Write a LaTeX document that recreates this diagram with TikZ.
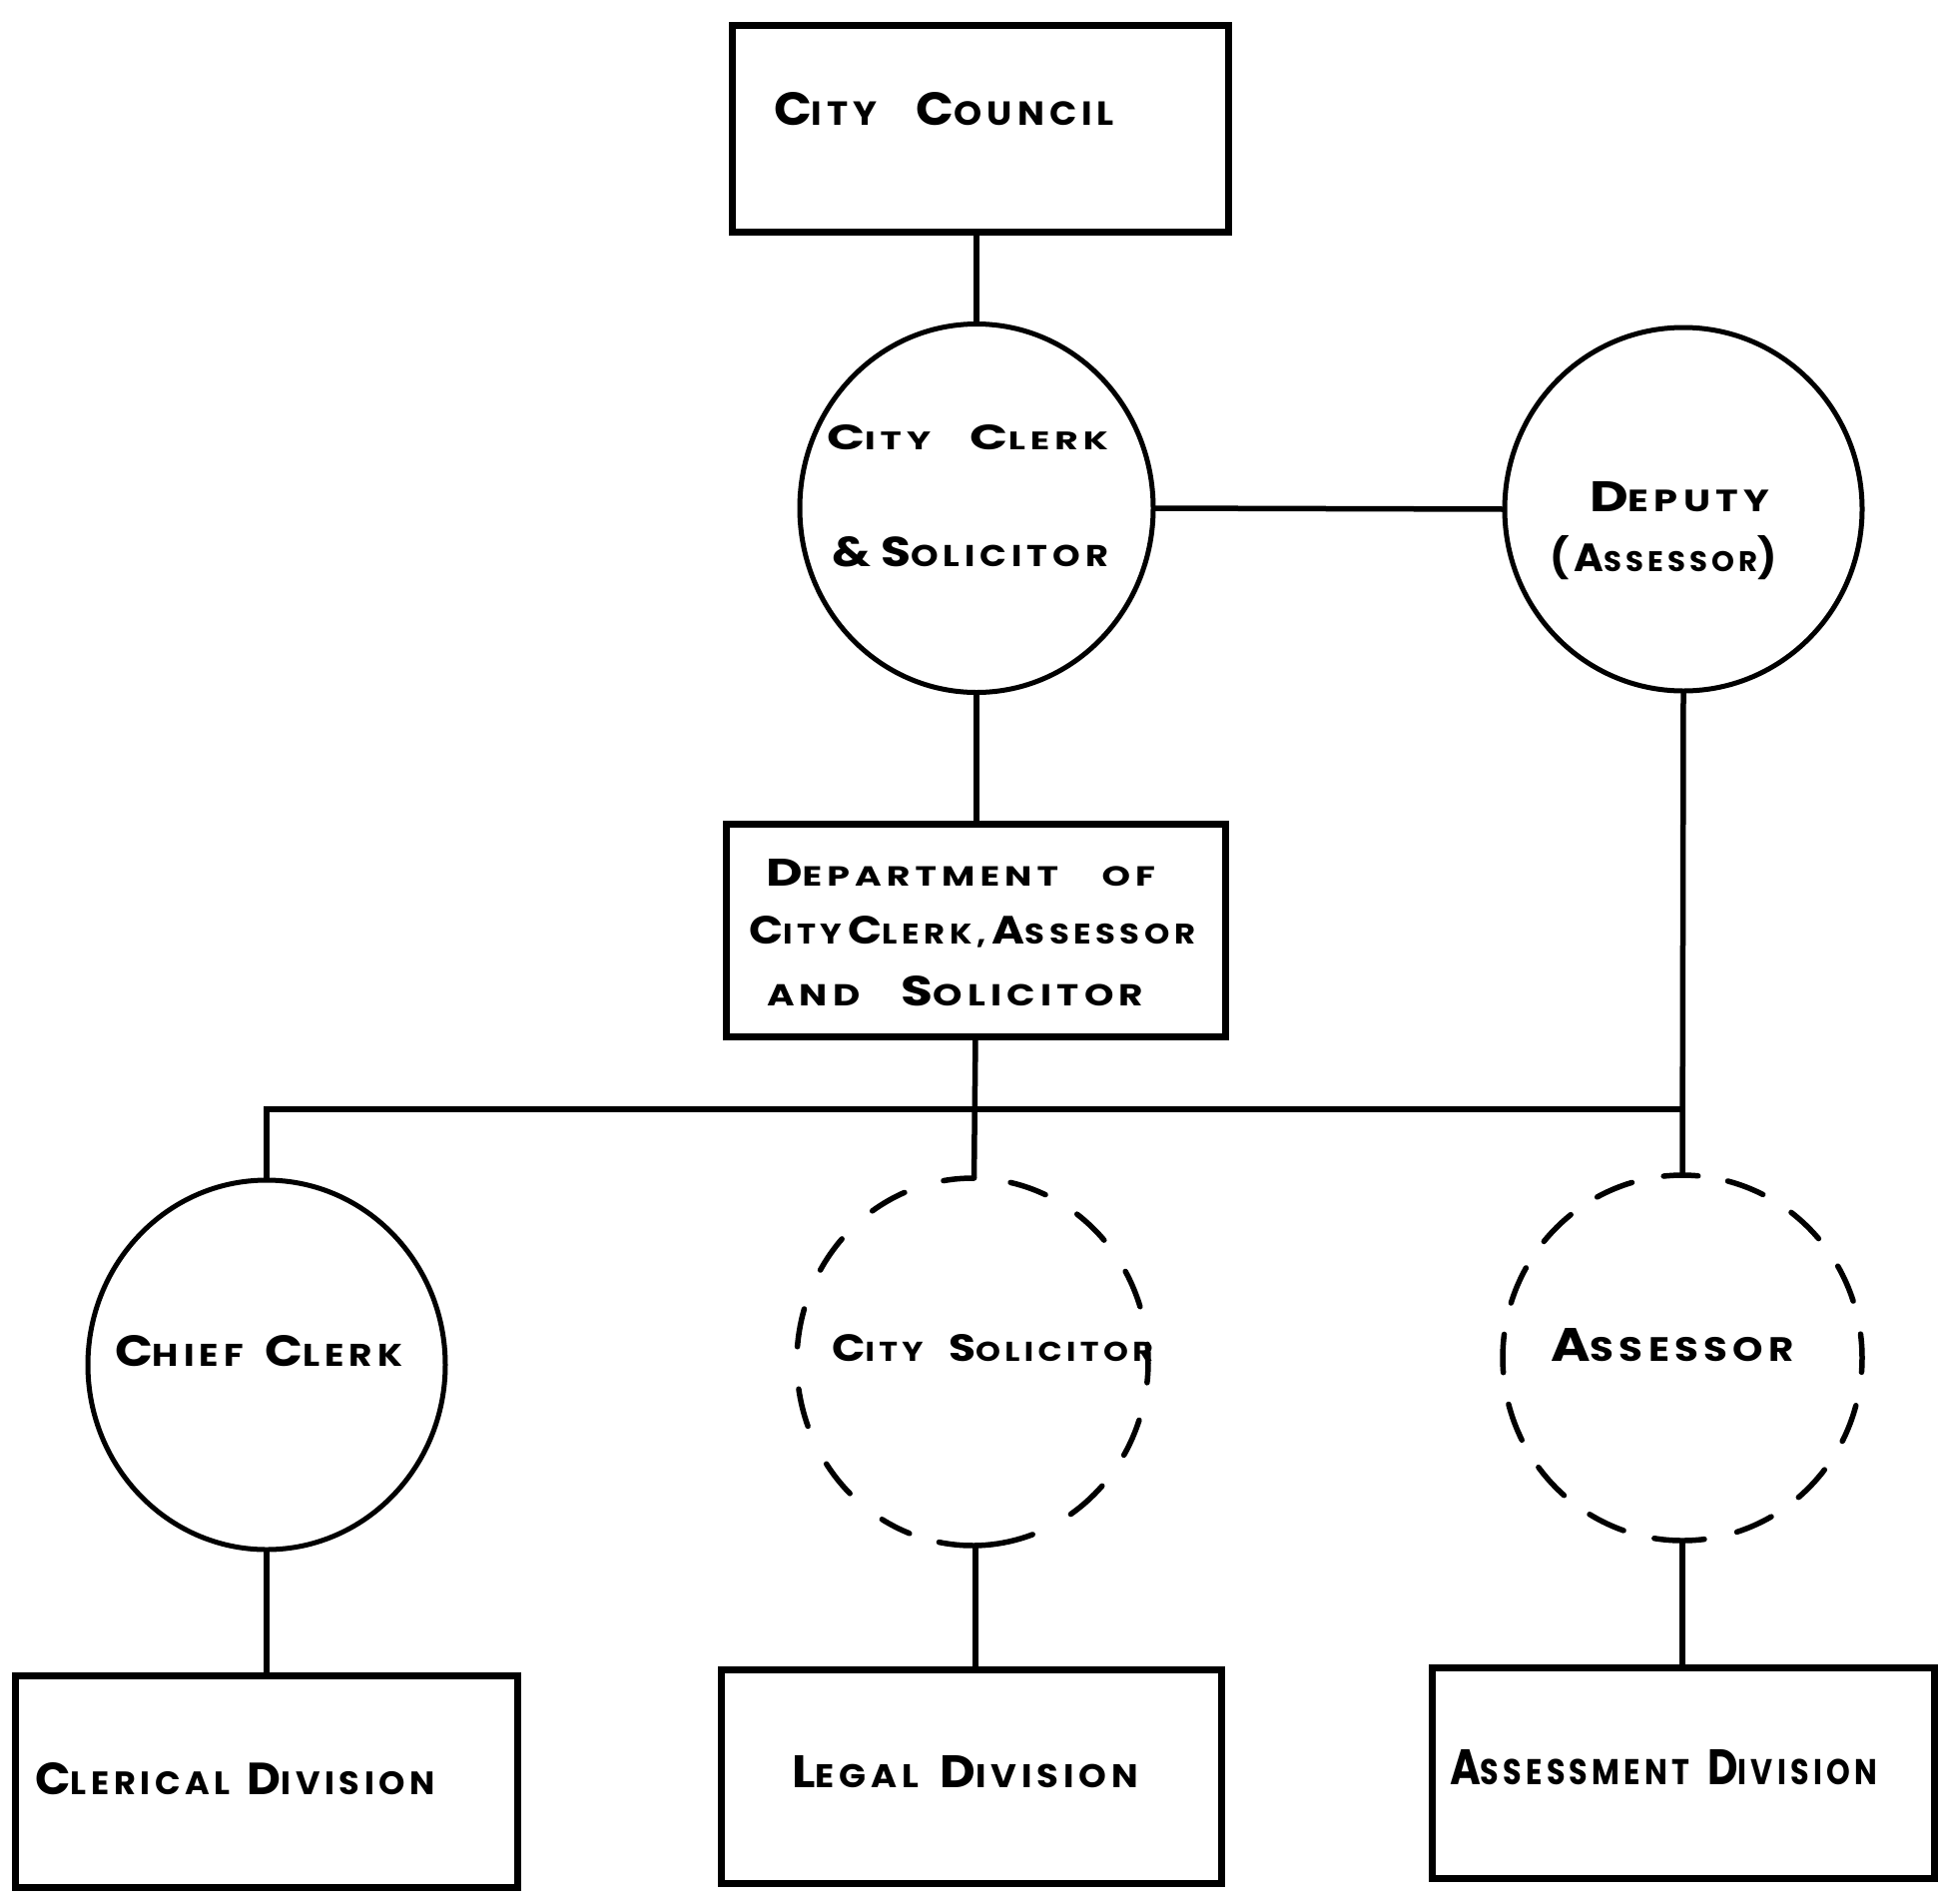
\documentclass[tikz,border=0pt]{standalone}
\usepackage{fontspec}
\setmainfont{Poppins}
\usetikzlibrary{shapes.geometric,calc}
% hand-lettered small capitals: \Up sets the taller initial letters
\newcommand\Up[1]{{\fontsize{15}{18}\selectfont #1}}
% \hand{width}{height}{text}: one lettered line stretched to the given size
\newcommand\hand[3]{\resizebox{#1pt}{#2pt}{\fontsize{10.8}{12}\selectfont\bfseries\addfontfeatures{LetterSpace=14}#3}}
\begin{document}
\begin{tikzpicture}[x=1pt,y=-1pt,
  box/.style={draw, line width=7, inner sep=0, outer sep=0},
  oval/.style={ellipse, draw, line width=5, inner sep=0, outer sep=0},
  ghost/.style={ellipse, inner sep=0, outer sep=0},
  link/.style={line width=5.5},
  dashline/.style={line width=5.5, line cap=round},
  lettering/.style={inner sep=0, outer sep=0, anchor=base west}]
\useasboundingbox (0,0) rectangle (1942,1906);
\fill[white] (0,0) rectangle (1942,1906);

% ---- offices and divisions ----
\node[box, minimum width=497, minimum height=207] (council) at (981.5,128.5) {};
\node[oval, minimum width=354, minimum height=369] (clerk) at (978,509) {};
\node[oval, minimum width=358, minimum height=364] (deputy) at (1686,510) {};
\node[box, minimum width=500, minimum height=213] (dept) at (977,931.5) {};
\node[oval, minimum width=358, minimum height=370] (chief) at (267,1367) {};
\node[ghost, minimum width=352, minimum height=368] (sol) at (974,1364) {};
\node[ghost, minimum width=360, minimum height=366] (ass) at (1685,1360) {};
\node[box, minimum width=503, minimum height=212] (clerical) at (266.5,1784) {};
\node[box, minimum width=501, minimum height=214] (legal) at (972.5,1779) {};
\node[box, minimum width=503, minimum height=211] (assessment) at (1685.5,1775.5) {};

% ---- dashed outline of the City Solicitor ----
\begin{scope}[dashline, shift={(sol.center)}]
  \draw (-99.5:176 and 184) arc[start angle=-99.5, delta angle=10, x radius=176, y radius=184];
  \foreach \s in {-77.5,-53.5,-29.5,-5.5,18.5}
    \draw (\s:176 and 184) arc[start angle=\s, delta angle=12, x radius=176, y radius=184];
  \draw (42.5:176 and 184) arc[start angle=42.5, delta angle=13.5, x radius=176, y radius=184];
  \draw (70:176 and 184) arc[start angle=70, delta angle=31, x radius=176, y radius=184];
  \draw (111:176 and 184) arc[start angle=111, delta angle=10, x radius=176, y radius=184];
  \foreach \s in {134.25,159.5,184.75,210,235.25}
    \draw (\s:176 and 184) arc[start angle=\s, delta angle=12, x radius=176, y radius=184];
\end{scope}

% ---- dashed outline of the Assessor ----
\begin{scope}[dashline, shift={(ass.center)}]
  \draw (-96:180 and 183) arc[start angle=-96, delta angle=11, x radius=180, y radius=183];
  \draw (83:180 and 183) arc[start angle=83, delta angle=16, x radius=180, y radius=183];
  \foreach \i [evaluate=\i as \s using -75.375+22.625*\i] in {0,...,6}
    \draw (\s:180 and 183) arc[start angle=\s, delta angle=12, x radius=180, y radius=183];
  \foreach \i [evaluate=\i as \s using 109.1+22.1*\i] in {0,...,6}
    \draw (\s:180 and 183) arc[start angle=\s, delta angle=12, x radius=180, y radius=183];
\end{scope}

% ---- attachment points ----
\coordinate (soltop) at ($(sol.center)+(-89.5:176 and 184)$);
\coordinate (solbot) at ($(sol.center)+(89:176 and 184)$);
\coordinate (asstop) at ($(ass.center)+(-90:180 and 183)$);
\coordinate (assbot) at ($(ass.center)+(90:180 and 183)$);
\coordinate (bar) at (977,1111);

% ---- connectors ----
\draw[link] (clerk.north) -- (clerk.north |- council.south);
\draw[link] (clerk.east) -- (deputy.west);
\draw[link] (clerk.south) -- (clerk.south |- dept.north);
\draw[link] (dept.south) -- (soltop);
\draw[link] (deputy.south) -- (asstop);
\draw[link] (chief.north) |- (bar -| asstop);
\draw[link] (chief.south) -- (chief.south |- clerical.north);
\draw[link] (solbot) -- (solbot |- legal.north);
\draw[link] (assbot) -- (assbot |- assessment.north);

% ---- lettering ----
\node[lettering] (tCouncil) at (775,125) {\hand{341}{33}{\Up{C}ITY\hspace{1.1em}\Up{C}OUNCIL}};
\node[lettering] (tClerkA) at (828,450) {\hand{282}{25}{\Up{C}ITY\hspace{1.1em}\Up{C}LERK}};
\node[lettering] (tClerkB) at (833,567) {\hand{277}{30}{\Up{\&}\hspace{0.3em}\Up{S}OLICITOR}};
\node[lettering] (tDeputyA) at (1592,512) {\hand{180}{30}{\Up{D}EPUTY}};
\node[lettering] (tDeputyB) at (1552,572) {\hand{228}{36}{\Up{(A}SSESSOR\Up{)}}};
\node[lettering] (tDeptA) at (767,887) {\hand{390}{27}{\Up{D}EPARTMENT\hspace{1.2em}OF}};
\node[lettering] (tDeptB) at (750,945) {\hand{447}{28}{\Up{C}ITY\hspace{0.2em}\Up{C}LERK,\hspace{0.2em}\Up{A}SSESSOR}};
\node[lettering] (tDeptC) at (768,1007) {\hand{377}{30}{AND\hspace{1.1em}\Up{S}OLICITOR}};
\node[lettering] (tChief) at (115,1368) {\hand{288}{31}{\Up{C}HIEF\hspace{0.6em}\Up{C}LERK}};
\node[lettering] (tSol) at (833,1363) {\hand{322}{27}{\Up{C}ITY\hspace{0.8em}\Up{S}OLICITOR}};
\node[lettering] (tAss) at (1553,1363) {\hand{244}{33}{\Up{A}SSESSOR}};
\node[lettering] (tClerical) at (35,1797) {\hand{401}{32}{\Up{C}LERICAL\hspace{0.5em}\Up{D}IVISION}};
\node[lettering] (tLegal) at (793,1790) {\hand{347}{32}{\Up{L}EGAL\hspace{0.6em}\Up{D}IVISION}};
\node[lettering] (tAssessment) at (1452,1787) {\hand{428}{35}{\Up{A}SSESSMENT\hspace{0.6em}\Up{D}IVISION}};
\end{tikzpicture}
\end{document}
